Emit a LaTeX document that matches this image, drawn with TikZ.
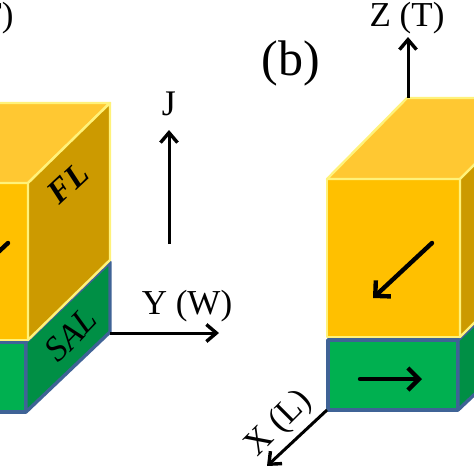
\documentclass[tikz,border=0pt]{standalone}
\usepackage{fontspec}
\setmainfont{Liberation Serif}
\usetikzlibrary{arrows.meta}
\definecolor{flfront}{HTML}{FFC000}
\definecolor{fltop}{HTML}{FFC832}
\definecolor{flside}{HTML}{CC9A00}
\definecolor{flline}{HTML}{FFF27A}
\definecolor{salfront}{HTML}{00B050}
\definecolor{salside}{HTML}{008F45}
\definecolor{salline}{HTML}{3F6396}
\tikzset{
  x=1pt,y=-1pt,
  flface/.style={draw=flline,line width=2.4pt,line join=round},
  salface/.style={draw=salline,line width=3.4pt,line join=round},
  axis/.style={draw=black,line width=3pt,-{Straight Barb[length=10pt,width=17pt,line width=3.4pt]}},
  spin/.style={draw=black,line width=4.4pt,line cap=round,-{Straight Barb[length=11pt,width=22pt,line width=4.4pt]}},
  lab/.style={inner sep=0pt,font=\fontsize{35}{35}\selectfont},
}
\begin{document}
\begin{tikzpicture}
\useasboundingbox (0,0) rectangle (474,474);
\clip (0,0) rectangle (474,474);
% left block
\fill[white] (0,0) rectangle (474,474);
\draw[salface,fill=salfront] (-105,342) rectangle (26,412);
\draw[salface,fill=salside] (26,342) -- (110,262) -- (110,332) -- (26,412) -- cycle;
\draw[flface,fill=flfront] (-105,183) rectangle (28,340);
\draw[flface,fill=fltop] (-105,183) -- (-24,103) -- (110,103) -- (28,183) -- cycle;
\draw[flface,fill=flside] (28,183) -- (110,103) -- (110,260) -- (28,340) -- cycle;
\coordinate (la) at (8,243);
\coordinate (lb) at (-52,299);
\draw[spin] (la) -- (lb);
\node[rotate=43,font=\fontsize{33}{33}\selectfont\bfseries\itshape,inner sep=0pt] (fl) at (68,183) {FL};
\node[rotate=46,font=\fontsize{35}{35}\selectfont\itshape,inner sep=0pt] (sal) at (71,335) {SAL};
% right block
\draw[salface,fill=salfront] (328,340) rectangle (458,410);
\draw[salface,fill=salside] (458,340) -- (545,258) -- (545,328) -- (458,410) -- cycle;
\draw[flface,fill=flfront] (327,179) rectangle (460,337);
\draw[flface,fill=fltop] (327,179) -- (407,98) -- (541,98) -- (460,179) -- cycle;
\draw[flface,fill=flside] (460,179) -- (541,98) -- (541,256) -- (460,337) -- cycle;
\coordinate (ra) at (432,243);
\coordinate (rb) at (373,298);
\draw[spin] (ra) -- (rb);
\coordinate (sa) at (360,379);
\coordinate (sb) at (422,379);
\draw[spin] (sa) -- (sb);
% axes
\coordinate (yo) at (110,333);
\coordinate (ye) at (219,333);
\draw[axis] (yo) -- (ye);
\coordinate (jo) at (169,244);
\coordinate (je) at (169,130);
\draw[axis] (jo) -- (je);
\coordinate (zo) at (408,98);
\coordinate (ze) at (408,37);
\draw[axis] (zo) -- (ze);
\coordinate (xo) at (327,410);
\coordinate (xe) at (267,466);
\draw[axis] (xo) -- (xe);
% labels
\node[lab] (zl) at (-24,18) {Z (T)};
\node[lab] (zr) at (407,18) {Z (T)};
\node[lab,font=\fontsize{50}{50}\selectfont] (b) at (291,63) {(b)};
\node[lab,font=\fontsize{36}{36}\selectfont] (j) at (169,104) {J};
\node[lab] (yl) at (187,306) {Y (W)};
\node[lab,rotate=45] (xl) at (279,424) {X (L)};
\end{tikzpicture}
\end{document}
